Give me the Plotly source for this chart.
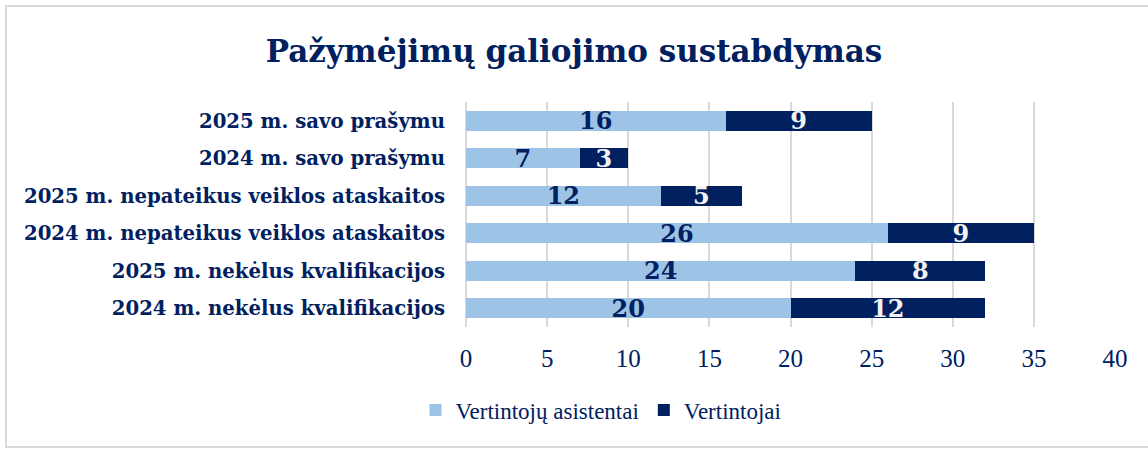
import plotly.graph_objects as go

categories = [
    "2025 m. savo prašymu",
    "2024 m. savo prašymu",
    "2025 m. nepateikus veiklos ataskaitos",
    "2024 m. nepateikus veiklos ataskaitos",
    "2025 m. nekėlus kvalifikacijos",
    "2024 m. nekėlus kvalifikacijos",
]
asistentai = [16, 7, 12, 26, 24, 20]
vertintojai = [9, 3, 5, 9, 8, 12]
x_ticks = [0, 5, 10, 15, 20, 25, 30, 35, 40]

NAVY = "#002060"
LIGHT = "#9DC3E6"
BOLD_FONT = "DejaVu Serif"
FONT = "Liberation Serif"

W, H = 1148, 449
L, R, T, B = 466, 33, 102, 122

fig = go.Figure()
fig.add_trace(go.Bar(
    y=categories, x=asistentai, orientation="h", name="Vertintojų asistentai",
    marker=dict(color=LIGHT, line=dict(width=0)),
    text=asistentai, textposition="inside", insidetextanchor="middle",
    textangle=0, constraintext="none",
    textfont=dict(family=BOLD_FONT, size=24, color=NAVY, weight="bold"),
))
fig.add_trace(go.Bar(
    y=categories, x=vertintojai, orientation="h", name="Vertintojai",
    marker=dict(color=NAVY, line=dict(width=0)),
    text=vertintojai, textposition="inside", insidetextanchor="middle",
    textangle=0, constraintext="none",
    textfont=dict(family=BOLD_FONT, size=24, color="#F2F2F2", weight="bold"),
))

pw = W - L - R
ph = H - T - B
# outer chart border, given in pixels and converted to paper units
fig.add_shape(
    type="rect", xref="paper", yref="paper",
    x0=(6 - L) / pw, x1=(W + 60 - L) / pw,
    y0=(H - B - 447) / ph, y1=(H - B - 6) / ph,
    line=dict(color="#D9D9D9", width=2), fillcolor="rgba(0,0,0,0)",
)

fig.update_layout(
    width=W, height=H,
    barmode="stack", bargap=0.47,
    paper_bgcolor="white", plot_bgcolor="white",
    margin=dict(l=L, r=R, t=T, b=B),
    title=dict(
        text="<b>Pažymėjimų galiojimo sustabdymas</b>",
        x=0.5, xanchor="center", y=1 - 51 / H, yanchor="middle",
        font=dict(family=BOLD_FONT, size=31, color=NAVY),
    ),
    legend=dict(
        orientation="h", x=(601 - L) / pw, xanchor="center",
        y=(H - B - 410) / ph, yanchor="middle",
        font=dict(family=FONT, size=23, color=NAVY),
        traceorder="normal", itemwidth=30,
    ),
    font=dict(family=FONT, color=NAVY),
    showlegend=True,
)
fig.update_xaxes(
    range=[0, 40], tickvals=x_ticks, showgrid=True, gridcolor="#D9D9D9", gridwidth=2,
    zeroline=True, zerolinecolor="#D9D9D9", zerolinewidth=2,
    tickfont=dict(family=FONT, size=25, color=NAVY), ticks="", showline=False,
    ticklabelstandoff=14, automargin=False,
)
fig.update_yaxes(
    autorange="reversed", showgrid=False, ticks="", ticklen=0,
    tickfont=dict(family=BOLD_FONT, size=19.7, color=NAVY, weight="bold"),
    ticklabelstandoff=20, automargin=False,
)

fig.write_html(
    "out.html",
    config={"displayModeBar": False},
    post_script="document.body.style.margin='0';",
)
